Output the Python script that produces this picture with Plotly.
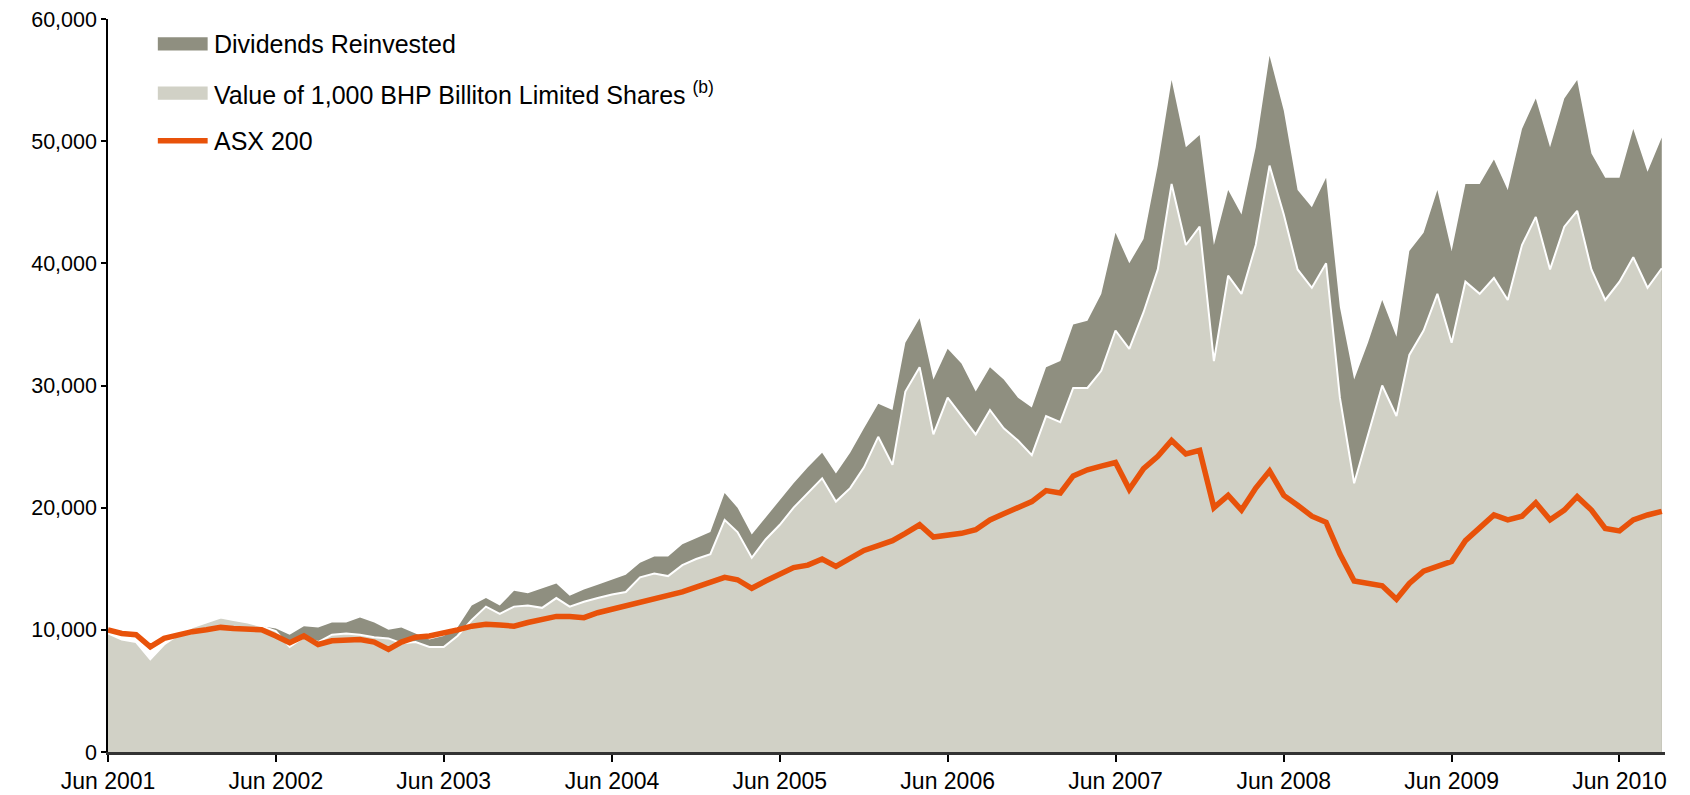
import pandas as pd
import plotly.graph_objects as go

# monthly samples, Jun 2001 .. Sep 2010 (values in thousands of A$)
months = pd.date_range("2001-06-01", periods=112, freq="MS")

asx200_k = [
    10.0, 9.7, 9.6, 8.6, 9.3, 9.6, 9.85, 10.0, 10.2, 10.1, 10.0, 10.0,
    9.5, 8.95, 9.5, 8.8, 9.1, 9.2, 9.2, 9.0, 8.4, 9.0, 9.4, 9.5,
    9.7, 10.0, 10.3, 10.45, 10.4, 10.3, 10.6, 10.85, 11.1, 11.1, 11.0, 11.4,
    11.7, 11.9, 12.2, 12.5, 12.8, 13.1, 13.5, 13.9, 14.3, 14.1, 13.4, 14.0,
    14.6, 15.1, 15.3, 15.8, 15.2, 15.8, 16.5, 16.9, 17.3, 17.9, 18.6, 17.6,
    17.7, 17.9, 18.2, 19.0, 19.5, 20.0, 20.5, 21.4, 21.2, 22.6, 23.1, 23.4,
    23.7, 21.5, 23.2, 24.2, 25.5, 24.4, 24.7, 20.0, 21.0, 19.8, 21.6, 23.0,
    21.0, 20.2, 19.3, 18.8, 16.2, 14.0, 13.8, 13.6, 12.5, 13.8, 14.8, 15.2,
    15.6, 17.3, 18.3, 19.4, 19.0, 19.3, 20.4, 19.0, 19.8, 20.9, 19.8, 18.3,
    18.1, 19.0, 19.4, 19.7,
]

shares_k = [
    9.7, 9.2, 9.0, 7.6, 8.8, 9.6, 10.2, 10.6, 11.0, 10.8, 10.6, 10.3,
    9.9, 8.6, 9.4, 9.0, 9.6, 9.7, 9.6, 9.4, 9.3, 8.9, 9.0, 8.6,
    8.6, 9.5, 10.8, 11.9, 11.3, 11.9, 12.0, 11.8, 12.6, 11.9, 12.3, 12.6,
    12.9, 13.1, 14.3, 14.6, 14.4, 15.3, 15.8, 16.2, 19.0, 18.0, 15.9, 17.4,
    18.6, 20.0, 21.2, 22.4, 20.5, 21.6, 23.3, 25.8, 23.5, 29.5, 31.5, 26.0,
    29.0, 27.5, 26.0, 28.0, 26.5, 25.5, 24.3, 27.5, 27.0, 29.8, 29.8, 31.2,
    34.5, 33.0, 36.0, 39.5, 46.5, 41.5, 43.0, 32.0, 39.0, 37.5, 41.5, 48.0,
    44.0, 39.5, 38.0, 40.0, 29.0, 22.0, 26.0, 30.0, 27.5, 32.5, 34.5, 37.5,
    33.5, 38.5, 37.5, 38.8, 37.0, 41.5, 43.8, 39.5, 43.0, 44.3, 39.5, 37.0,
    38.5, 40.5, 38.0, 39.6,
]

reinvested_k = [
    9.7, 9.2, 9.0, 7.6, 8.8, 9.6, 10.2, 10.6, 11.0, 10.8, 10.6, 10.3,
    10.1, 9.6, 10.3, 10.2, 10.6, 10.6, 11.0, 10.6, 10.0, 10.2, 9.7, 9.2,
    9.5, 10.2, 12.0, 12.6, 12.0, 13.2, 13.0, 13.4, 13.8, 12.8, 13.3, 13.7,
    14.1, 14.5, 15.5, 16.0, 16.0, 17.0, 17.5, 18.0, 21.2, 20.0, 17.8, 19.2,
    20.6, 22.0, 23.3, 24.5, 22.8, 24.5, 26.5, 28.5, 28.0, 33.5, 35.5, 30.5,
    33.0, 31.8, 29.5, 31.5, 30.5, 29.0, 28.2, 31.5, 32.0, 35.0, 35.3, 37.5,
    42.5, 40.0, 42.0, 48.0, 55.0, 49.5, 50.5, 41.5, 46.0, 44.0, 49.5, 57.0,
    52.5, 46.0, 44.6, 47.0, 36.4, 30.5, 33.5, 37.0, 34.0, 41.0, 42.5, 46.0,
    41.0, 46.5, 46.5, 48.5, 46.0, 51.0, 53.5, 49.5, 53.5, 55.0, 49.0, 47.0,
    47.0, 51.0, 47.5, 50.3,
]

legend_labels = ["Dividends Reinvested",
                 "Value of 1,000 BHP Billiton Limited Shares <sup>(b)</sup>",
                 "ASX 200"]

DARK = "#8f8f80"
LIGHT = "#d1d1c6"
ORANGE = "#e8520a"
FONT = "Liberation Sans, Arial"

fig = go.Figure()
fig.add_trace(go.Scatter(x=months, y=[v * 1000 for v in reinvested_k],
                         mode="lines", line=dict(width=0, color=DARK),
                         fill="tozeroy", fillcolor=DARK, showlegend=False))
fig.add_trace(go.Scatter(x=months, y=[v * 1000 for v in shares_k],
                         mode="lines", line=dict(width=2, color="white"),
                         fill="tozeroy", fillcolor=LIGHT, showlegend=False))
fig.add_trace(go.Scatter(x=months, y=[v * 1000 for v in asx200_k],
                         mode="lines", line=dict(width=5.5, color=ORANGE),
                         showlegend=False))

# hand-made legend (swatches + text) in paper coordinates
rows = [0.966, 0.899, 0.834]
fig.add_shape(type="rect", xref="paper", yref="paper",
              x0=0.032, x1=0.064, y0=rows[0] - 0.009, y1=rows[0] + 0.009,
              fillcolor=DARK, line_width=0)
fig.add_shape(type="rect", xref="paper", yref="paper",
              x0=0.032, x1=0.064, y0=rows[1] - 0.009, y1=rows[1] + 0.009,
              fillcolor=LIGHT, line_width=0)
fig.add_shape(type="line", xref="paper", yref="paper",
              x0=0.032, x1=0.064, y0=rows[2], y1=rows[2],
              line=dict(color=ORANGE, width=5.5))
for txt, yy in zip(legend_labels, rows):
    fig.add_annotation(text=txt, xref="paper", yref="paper", x=0.067, y=yy,
                       xanchor="left", yanchor="middle", showarrow=False,
                       font=dict(size=25, color="black", family=FONT))

# page body has an 8px margin, so the figure is 8px smaller each way
fig.update_layout(
    width=1682, height=787,
    margin=dict(l=100, r=25, t=11, b=43, autoexpand=False),
    paper_bgcolor="white", plot_bgcolor="white",
    font=dict(family=FONT, size=23, color="black"),
    xaxis=dict(type="date", range=["2001-06-01", "2010-09-08"],
               tick0="2001-06-01", dtick="M12", tickformat="%b %Y",
               showgrid=False, zeroline=False, showline=True,
               linecolor="#333333", linewidth=2.5,
               ticks="outside", ticklen=7, tickwidth=1.5, tickcolor="black",
               tickfont=dict(size=23), automargin=False,
               ticklabeloverflow="allow"),
    yaxis=dict(range=[0, 60000], dtick=10000, tickformat=",d",
               showgrid=False, zeroline=False, showline=True,
               linecolor="black", linewidth=1.5,
               ticks="outside", ticklen=5, tickwidth=1.5, tickcolor="black",
               tickfont=dict(size=21.5), automargin=False,
               ticklabeloverflow="allow"),
)

fig.write_html("out.html")
